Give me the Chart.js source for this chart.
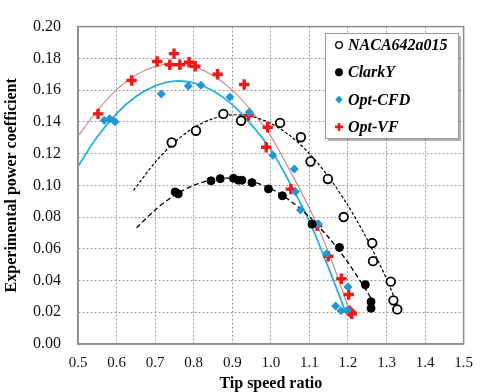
<!DOCTYPE html>
<html>
<head>
<meta charset="utf-8">
<script src="https://cdn.jsdelivr.net/npm/chart.js@4.4.0/dist/chart.umd.min.js"></script>
<style>
  html, body { margin: 0; padding: 0; background: #fff; }
</style>
</head>
<body>
<canvas id="grafico" width="483" height="392"></canvas>
<script>
// puntos medidos
const nacaX = [0.743, 0.806, 0.877, 0.923, 1.024, 1.078, 1.103, 1.148, 1.189, 1.263, 1.265, 1.311, 1.318, 1.328];
const nacaY = [0.127, 0.1344, 0.145, 0.1407, 0.1393, 0.1303, 0.115, 0.104, 0.080, 0.0636, 0.0522, 0.0393, 0.0275, 0.0218];

const clarkX = [0.752, 0.760, 0.845, 0.869, 0.903, 0.916, 0.925, 0.951, 0.994, 1.030, 1.107, 1.178, 1.245, 1.260, 1.260];
const clarkY = [0.0958, 0.0946, 0.1028, 0.1042, 0.1044, 0.1032, 0.1032, 0.1017, 0.0977, 0.0934, 0.0755, 0.0608, 0.0374, 0.0266, 0.0225];

const cfdX = [0.568, 0.582, 0.596, 0.716, 0.786, 0.819, 0.894, 0.944, 1.005, 1.061, 1.064, 1.077, 1.123, 1.144, 1.200, 1.168, 1.182, 1.199];
const cfdY = [0.141, 0.142, 0.140, 0.1576, 0.1625, 0.163, 0.1557, 0.146, 0.119, 0.1102, 0.0959, 0.0845, 0.0757, 0.0568, 0.0359, 0.0239, 0.021, 0.0215];

const vfX = [0.552, 0.639, 0.705, 0.738, 0.749, 0.764, 0.788, 0.804, 0.862, 0.931, 0.942, 0.992, 0.988, 1.052, 1.120, 1.149, 1.183, 1.202, 1.204, 1.208, 1.210];
const vfY = [0.145, 0.166, 0.178, 0.176, 0.183, 0.176, 0.1775, 0.175, 0.170, 0.1635, 0.144, 0.1366, 0.124, 0.0976, 0.0745, 0.0553, 0.0411, 0.0312, 0.0208, 0.0198, 0.0190];

// lineas de tendencia
const nacaFitX = [0.644, 0.7, 0.75, 0.8, 0.85, 0.9, 0.95, 1.0, 1.05, 1.1, 1.15, 1.2, 1.25, 1.3, 1.333];
const nacaFitY = [0.0968, 0.1145, 0.1271, 0.1363, 0.142, 0.1444, 0.1434, 0.139, 0.1312, 0.120, 0.1053, 0.0873, 0.0659, 0.0411, 0.0215];
const clarkFitX = [0.652, 0.7, 0.75, 0.8, 0.85, 0.9, 0.95, 1.0, 1.05, 1.1, 1.15, 1.2, 1.25, 1.265];
const clarkFitY = [0.0732, 0.0845, 0.0937, 0.100, 0.1036, 0.1045, 0.1025, 0.0978, 0.0903, 0.0801, 0.0671, 0.0514, 0.0328, 0.0267];
const cfdFitX = [0.5, 0.55, 0.6, 0.65, 0.7, 0.75, 0.8, 0.85, 0.9, 0.95, 1.0, 1.05, 1.1, 1.15, 1.195];
const cfdFitY = [0.112, 0.1306, 0.1452, 0.1559, 0.1627, 0.1656, 0.1646, 0.1596, 0.1508, 0.1381, 0.1225, 0.1012, 0.0772, 0.0478, 0.0195];
const vfFitX = [0.5, 0.55, 0.6, 0.65, 0.7, 0.75, 0.8, 0.85, 0.9, 0.95, 1.0, 1.05, 1.1, 1.15, 1.204];
const vfFitY = [0.131, 0.147, 0.1603, 0.1695, 0.1749, 0.1767, 0.1748, 0.1692, 0.160, 0.1469, 0.131, 0.109, 0.0855, 0.0575, 0.021];

const xTicks = [0.5, 0.6, 0.7, 0.8, 0.9, 1.0, 1.1, 1.2, 1.3, 1.4, 1.5];
const yTicks = [0, 0.02, 0.04, 0.06, 0.08, 0.10, 0.12, 0.14, 0.16, 0.18, 0.20];

const pts = (xs, ys) => xs.map((x, i) => ({ x: x, y: ys[i] }));
const serif = '"Liberation Serif", "Times New Roman", serif';

function tendencia(xs, ys, color, dash, width) {
  return {
    trend: true,
    data: pts(xs, ys),
    showLine: true,
    pointRadius: 0,
    borderColor: color,
    borderWidth: width,
    borderDash: dash,
    tension: 0.3,
    fill: false,
    order: 2
  };
}

const marco = {
  id: 'marco',
  afterDraw(chart) {
    const { ctx, chartArea: a } = chart;
    ctx.save();
    ctx.strokeStyle = '#8c8c8c';
    ctx.lineWidth = 1.5;
    ctx.strokeRect(a.left, a.top, a.right - a.left, a.bottom - a.top);

    // leyenda
    const bx = 325, by = 33, bw = 133, bh = 105;
    ctx.fillStyle = 'rgba(0,0,0,0.3)';
    ctx.fillRect(bx + 3, by + 3, bw, bh);
    ctx.fillStyle = '#fff';
    ctx.fillRect(bx, by, bw, bh);
    ctx.strokeStyle = '#9a9a9a';
    ctx.lineWidth = 1;
    ctx.strokeRect(bx + 0.5, by + 0.5, bw, bh);

    const series = chart.data.datasets.filter(d => !d.trend);
    ctx.font = 'italic bold 16px ' + serif;
    ctx.textBaseline = 'middle';
    series.forEach((d, i) => {
      const y = by + 12 + i * 27.3;
      const x = bx + 14;
      ctx.beginPath();
      if (d.pointStyle === 'circle') {
        ctx.arc(x, y, 3.3, 0, Math.PI * 2);
        ctx.fillStyle = d.backgroundColor;
        ctx.fill();
        ctx.strokeStyle = d.borderColor;
        ctx.lineWidth = 1.3;
        ctx.stroke();
      } else if (d.pointStyle === 'rectRot') {
        ctx.moveTo(x, y - 3.8); ctx.lineTo(x + 3.8, y); ctx.lineTo(x, y + 3.8); ctx.lineTo(x - 3.8, y);
        ctx.closePath();
        ctx.fillStyle = d.backgroundColor;
        ctx.fill();
      } else {
        ctx.moveTo(x - 4, y); ctx.lineTo(x + 4, y);
        ctx.moveTo(x, y - 4); ctx.lineTo(x, y + 4);
        ctx.strokeStyle = d.borderColor;
        ctx.lineWidth = 2.6;
        ctx.stroke();
      }
      ctx.fillStyle = '#000';
      ctx.fillText(d.label, bx + 23, y + 1);
    });
    ctx.restore();
  }
};

new Chart(document.getElementById('grafico'), {
  type: 'scatter',
  data: {
    datasets: [
      {
        label: 'NACA642a015',
        data: pts(nacaX, nacaY),
        pointStyle: 'circle',
        pointRadius: 4.3,
        backgroundColor: '#fff',
        borderColor: '#000',
        borderWidth: 1.8,
        order: 1
      },
      {
        label: 'ClarkY',
        data: pts(clarkX, clarkY),
        pointStyle: 'circle',
        pointRadius: 4,
        backgroundColor: '#000',
        borderColor: '#000',
        borderWidth: 1,
        order: 1
      },
      {
        label: 'Opt-CFD',
        data: pts(cfdX, cfdY),
        pointStyle: 'rectRot',
        pointRadius: 4.5,
        backgroundColor: '#1f98d3',
        borderColor: '#1f98d3',
        borderWidth: 0,
        order: 1
      },
      {
        label: 'Opt-VF',
        data: pts(vfX, vfY),
        pointStyle: 'cross',
        pointRadius: 5.2,
        backgroundColor: '#f01818',
        borderColor: '#f01818',
        borderWidth: 3.4,
        order: 1
      },
      tendencia(nacaFitX, nacaFitY, '#000', [3, 2], 1.2),
      tendencia(clarkFitX, clarkFitY, '#000', [5, 3], 1.3),
      tendencia(cfdFitX, cfdFitY, '#2bb0de', [], 1.8),
      tendencia(vfFitX, vfFitY, '#d08a8a', [], 1.2)
    ]
  },
  options: {
    responsive: false,
    animation: false,
    layout: { padding: { top: 17, right: 10, left: 0, bottom: 0 } },
    plugins: {
      legend: { display: false },
      tooltip: { enabled: false }
    },
    scales: {
      x: {
        min: 0.5,
        max: 1.5,
        afterFit: s => { s.height = 48; },
        afterBuildTicks: s => { s.ticks = xTicks.map(v => ({ value: v })); },
        ticks: {
          callback: v => Number(v).toFixed(1),
          color: '#111',
          padding: 10,
          font: { family: serif, size: 15 }
        },
        grid: { color: '#9a9a9a', drawTicks: false, lineWidth: 1 },
        border: { display: true, color: '#8c8c8c', width: 1.5, dash: [2, 2] },
        title: {
          display: true,
          text: 'Tip speed ratio',
          color: '#000',
          padding: 0,
          font: { family: serif, size: 16, weight: 'bold', lineHeight: 1 }
        }
      },
      y: {
        min: 0,
        max: 0.2,
        afterFit: s => { s.width = 78; },
        afterBuildTicks: s => { s.ticks = yTicks.map(v => ({ value: v })); },
        ticks: {
          callback: v => Number(v).toFixed(2),
          color: '#111',
          padding: 17,
          font: { family: serif, size: 16 }
        },
        grid: { color: '#9a9a9a', drawTicks: false, lineWidth: 1 },
        border: { display: true, color: '#8c8c8c', width: 1.5, dash: [2, 2] },
        title: {
          display: true,
          text: 'Experimental power coefficient',
          color: '#000',
          padding: { top: 4, bottom: 0 },
          font: { family: serif, size: 16, weight: 'bold', lineHeight: 1 }
        }
      }
    }
  },
  plugins: [marco]
});
</script>
</body>
</html>
